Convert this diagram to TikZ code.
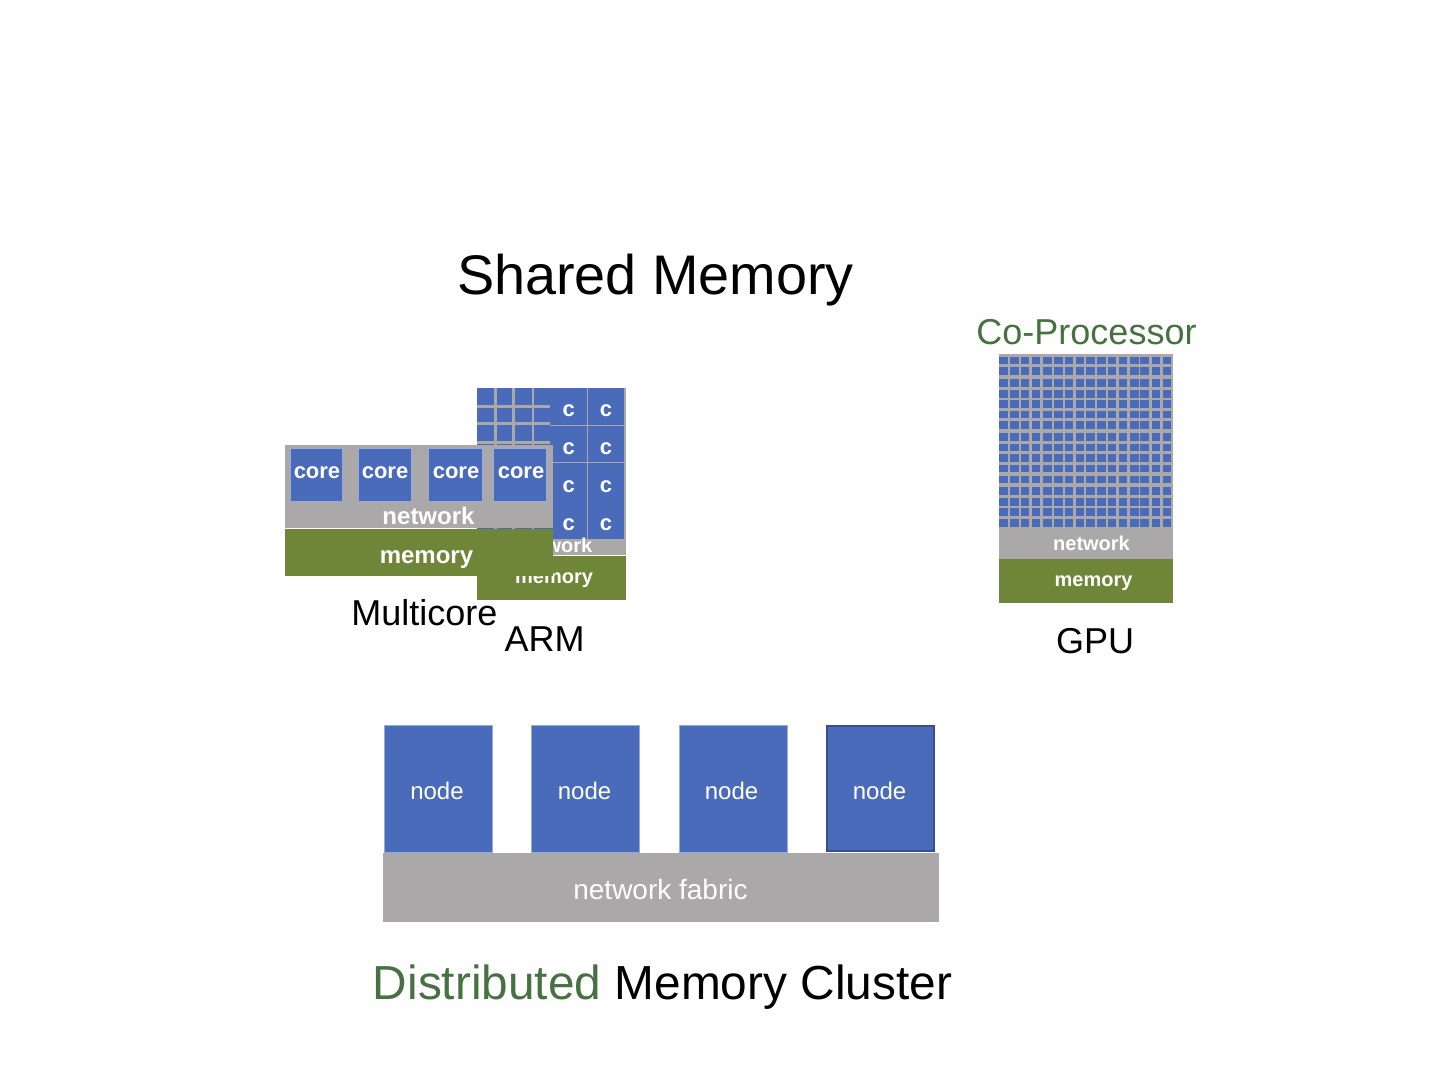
\documentclass[tikz,border=0pt]{standalone}
\usepackage{fontspec}
\setmainfont{Liberation Sans}
\definecolor{coreblue}{RGB}{73,107,186}
\definecolor{edgeblue}{RGB}{150,170,220}
\definecolor{fabricgray}{RGB}{170,168,169}
\definecolor{memgreen}{RGB}{111,133,55}
\definecolor{titlegreen}{RGB}{72,113,66}
\tikzset{
    txt/.style={anchor=base, inner sep=0pt},
    small/.style={txt, white, font=\fontsize{10}{12}\selectfont\bfseries},
    mid/.style={txt, white, font=\fontsize{12}{14}\selectfont\bfseries},
    tiny/.style={txt, white, font=\fontsize{11}{13}\selectfont\bfseries},
    label/.style={txt, font=\fontsize{18}{22}\selectfont},
    bigtitle/.style={txt, font=\fontsize{27.9}{34}\selectfont},
    box/.style={fill=coreblue, draw=edgeblue, line width=0.4pt}
}
\begin{document}
\begin{tikzpicture}[x=0.5pt,y=-0.5pt]
    \useasboundingbox (0,0) rectangle (1440,1080);
    % ARM
    \fill [fabricgray] (477,388) rectangle (625.5,555);
    \foreach \xa/\xb in {477/494,496.5/512,514.5/531.5,534/550}
    {
        \foreach \ya/\yb in {388/405,407.7/422.5,425.5/441.5}
            \fill [coreblue] (\xa,\ya) rectangle (\xb,\yb);
        \fill [coreblue] (\xa,444) rectangle (\xb,529);
    }
    \foreach \ya/\yb in {388/425,426/462.3,463.3/501.7,501.7/538.7}
    {
        \fill [coreblue] (550,\ya) rectangle (586.7,\yb);
        \fill [coreblue] (587.7,\ya) rectangle (624.3,\yb);
    }
    \foreach \y [count=\i] in {416,454,492,530}
    {
        \node [tiny] (armcl\i) at (568.7,\y) {c};
        \node [tiny] (armcr\i) at (606,\y) {c};
    }
    \node [small] (armnet) at (554,552) {network};
    \fill [memgreen] (477,556) rectangle (625.5,600);
    \node [small] (armmem) at (554,583) {memory};
    % Multicore
    \fill [fabricgray] (285,445) rectangle (553,528);
    \foreach \xa/\xb in {290.7/342,358/411.3,428.7/482,493/546.7}
        \draw [box] (\xa,448) rectangle (\xb,501);
    \foreach \x [count=\i] in {317,385,456,521}
        \node [tiny] (core\i) at (\x,479) {core};
    \node [mid] (mcnet) at (428.5,524) {network};
    \fill [memgreen] (285,529) rectangle (553,576);
    \node [mid] (mcmem) at (426.5,563) {memory};
    \node [label] (multicore) at (424.5,625) {Multicore};
    \node [label] (arm) at (544.5,651) {ARM};
    % GPU
    \fill [fabricgray] (999,354) rectangle (1173,559);
    \foreach \xa/\w in {998.5/9,1009.5/9,1021/8,1031.5/8,1042.5/9,1053.5/9,1064.5/8,1075.5/8,1086/9,1096.5/9,1108/8,1118.5/8,1129.5/9,1140/9,1152/8,1162.5/8}
        \foreach \ya in {356.7,367,379.3,390,400.3,410.7,421.3,433,443.7,454,464.7,475.7,487.3,498,508.3,519.3}
            \fill [coreblue] (\xa,\ya) rectangle +(\w,7.6);
    \node [small] (gpunet) at (1091.5,550) {network};
    \fill [memgreen] (999,559) rectangle (1173,603);
    \node [small] (gpumem) at (1093.5,586) {memory};
    \node [label, titlegreen] (coproc) at (1086.5,345) {Co-Processor};
    \node [label] (gpu) at (1095,653) {GPU};
    % cluster
    \foreach \xa/\xb in {384/492,531/639,679/787}
        \draw [box] (\xa,725) rectangle (\xb,852);
    \draw [coreblue!75!black, line width=1pt, fill=coreblue] (827,725.5) rectangle (934,851);
    \foreach \x [count=\i] in {437,584.5,731.5,879.5}
        \node [txt, white, font=\fontsize{12}{14}\selectfont] (node\i) at (\x,799) {node};
    \fill [fabricgray] (382.5,853) rectangle (939,922);
    \node [txt, white, font=\fontsize{14}{17}\selectfont] (fabric) at (660.5,899) {network fabric};
    \node [bigtitle] (shared) at (655.5,295) {Shared Memory};
    \node [txt, font=\fontsize{23.9}{29}\selectfont] (distributed) at (662.5,999) {\textcolor{titlegreen}{Distributed} Memory Cluster};
\end{tikzpicture}
\end{document}
